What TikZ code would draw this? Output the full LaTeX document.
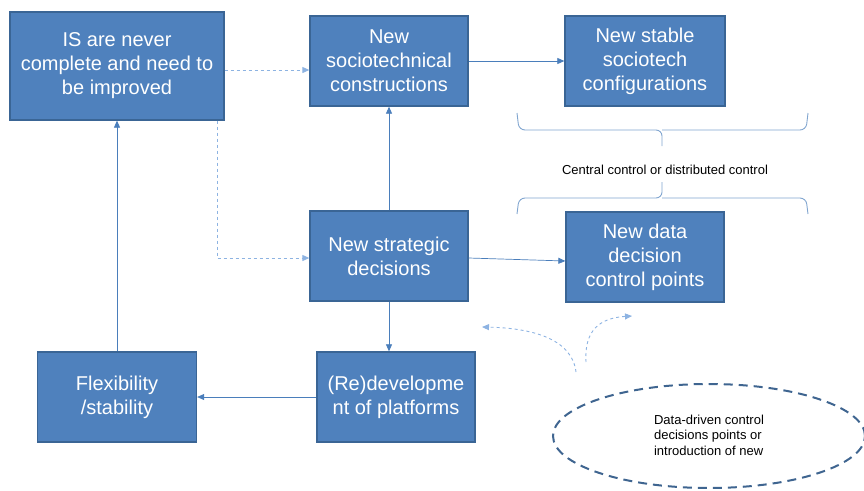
\documentclass[tikz,border=0pt]{standalone}
\usepackage{fontspec}
\setmainfont{Liberation Sans}
\usetikzlibrary{positioning,arrows.meta,shapes.geometric}
\definecolor{boxfill}{HTML}{4F81BD}
\definecolor{boxedge}{HTML}{3A6595}
\definecolor{arrowblue}{HTML}{4A7EBB}
\definecolor{dashblue}{HTML}{8DB3E2}
\definecolor{ovalblue}{HTML}{3F6590}

\begin{document}
\begin{tikzpicture}[x=1pt, y=-1pt,
    block/.style={rectangle, draw=boxedge, fill=boxfill, line width=1.3pt, text=white, align=center,
        font=\fontsize{20}{24}\selectfont, minimum width=158pt, minimum height=90pt, inner sep=1pt},
    flow/.style={-{Triangle[length=7pt,width=6pt]}, draw=arrowblue, line width=0.7pt},
    dflow/.style={-{Triangle[length=7pt,width=6pt]}, draw=dashblue, line width=0.9pt, dash pattern=on 3pt off 3pt},
    curly/.style={draw=arrowblue!70, line width=0.9pt, rounded corners=6pt}]
    \useasboundingbox (0,0) rectangle (864,490);

                \node (never) [block, minimum width=214pt, minimum height=108pt] at (117,66) {IS are never\\complete and need to\\be improved};
                \node (socio) [block] at (389,61) {New\\sociotechnical\\constructions};
                \node (stable) [block, minimum width=160pt] at (645,61) {New stable\\sociotech\\configurations};
                \node (strat) [block] at (389,256) {New strategic\\decisions};
                \node (data) [block] at (645,257) {New data\\decision\\control points};
                \node (redev) [block] at (396,397) {(Re)developme\\nt of platforms};
                \node (flex) [block, minimum width=159pt] at (117,397) {Flexibility\\/stability};

                \node (ctrl) [font=\fontsize{13}{15}\selectfont] at (665,170) {Central control or distributed control};
                \node (oval) [ellipse, draw=ovalblue, line width=2pt, dash pattern=on 9pt off 6pt,
                    minimum width=312pt, minimum height=104pt] at (709,436) {};
                \node (ovaltext) [align=left, font=\fontsize{13}{15.5}\selectfont] at (709,435) {Data-driven control\\decisions points or\\introduction of new};

                \coordinate (leftend) at (482,327);
                \coordinate (rightend) at (632,316);
                \coordinate (leftstart) at (576,372);
                \coordinate (rightstart) at (586,362);
                \coordinate (corner) at (217,258);

			\draw[dflow] (never.east |- 0,70) -- (socio.west |- 0,70);
			\draw[dflow] (never.south -| corner) -- (corner) -- (strat.west |- corner);
			\draw[flow] (strat) -- (socio);
			\draw[flow] (socio) -- (stable);
			\draw[flow] (strat.east |- 0,258) -- (data.west |- 0,261);
			\draw[flow] (strat) -- (redev.north -| strat);
			\draw[flow] (redev) -- (flex);
			\draw[flow] (flex) -- (never);

			% braces above and below the control label
			\draw[curly] (517,113) -- (519,130) -- (662,130) -- (662,146);
			\draw[curly] (808,113) -- (806,130) -- (662,130);
			\draw[curly] (517,214) -- (519,198) -- (662,198) -- (662,182);
			\draw[curly] (808,214) -- (806,198) -- (662,198);

			\draw[dflow] (leftstart) .. controls (572,338) and (530,328) .. (leftend);
			\draw[dflow] (rightstart) .. controls (584,330) and (600,318) .. (rightend);
	\end{tikzpicture}
\end{document}
